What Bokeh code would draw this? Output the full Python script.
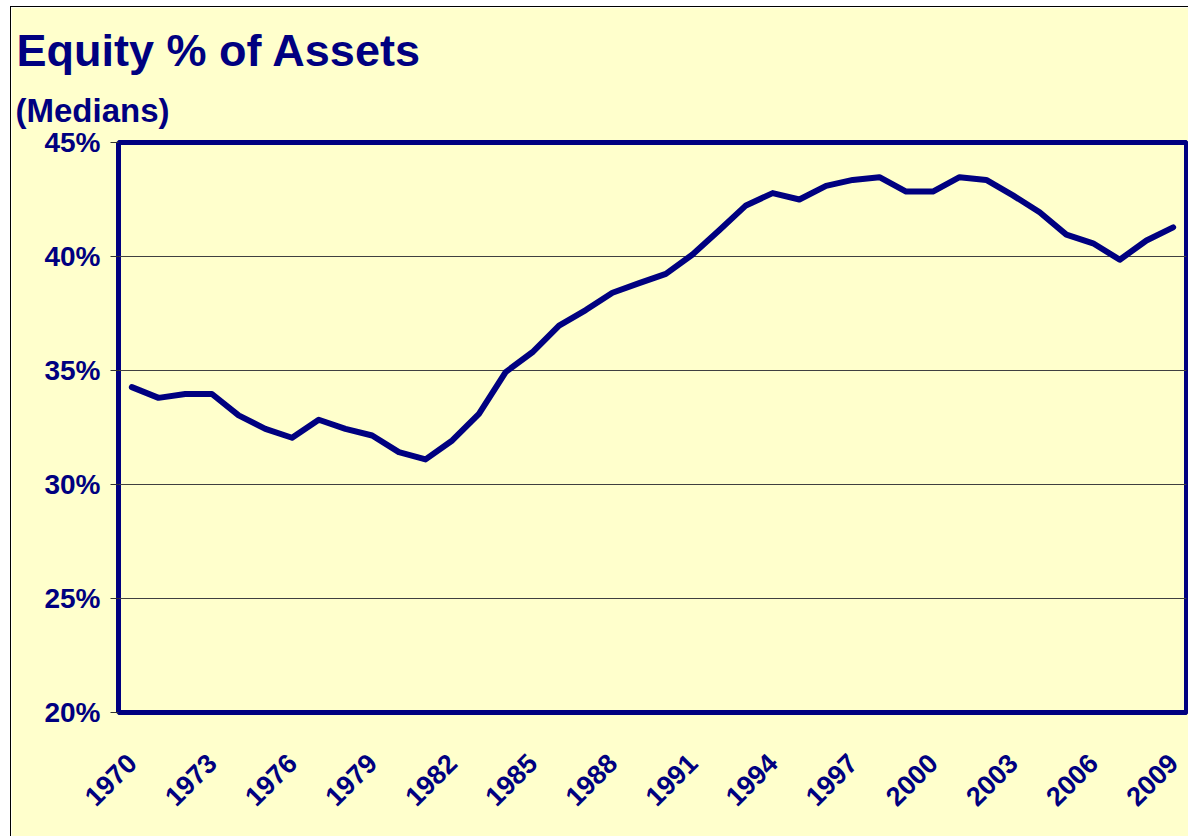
from bokeh.plotting import figure
from bokeh.models import FixedTicker, PrintfTickFormatter, Range1d, Title
from bokeh.embed import file_html
from bokeh.resources import INLINE
import math

years = list(range(1970, 2010))
equity_pct = [34.27, 33.8, 33.97, 33.97, 33.03, 32.44, 32.05, 32.84, 32.44, 32.15,
              31.42, 31.1, 31.93, 33.1, 34.93, 35.8, 36.97, 37.65, 38.41, 38.83,
              39.24, 40.09, 41.15, 42.24, 42.78, 42.5, 43.1, 43.36, 43.48, 42.85,
              42.85, 43.48, 43.36, 42.68, 41.94, 40.96, 40.58, 39.86, 40.7, 41.28]
x_tick_years = list(range(1970, 2010, 3))
y_ticks = [20, 25, 30, 35, 40, 45]
x_min, x_max = 1969.5, 2009.5
y_min, y_max = 20, 45
title_text = "Equity % of Assets"
subtitle_text = "(Medians)"

NAVY = "#000080"
BG = "#FFFFCC"
FONT = "Liberation Sans"

p = figure(width=1178, height=830, output_backend="svg", toolbar_location=None,
           x_range=Range1d(x_min, x_max), y_range=Range1d(y_min, y_max),
           min_border_left=107, min_border_top=135, min_border_right=3,
           min_border_bottom=125)
p.margin = (6, 0, 0, 10)
p.styles = {"border-left": "1px solid black", "border-top": "1px solid black"}
p.background_fill_color = BG
p.border_fill_color = BG
p.outline_line_color = NAVY
p.outline_line_width = 5

p.add_layout(Title(text=subtitle_text, align="left", offset=-103, standoff=27,
                   text_font=FONT, text_font_style="bold", text_font_size="33px",
                   text_color=NAVY), "above")
p.add_layout(Title(text=title_text, align="left", offset=-102, standoff=1,
                   text_font=FONT, text_font_style="bold", text_font_size="45px",
                   text_color=NAVY), "above")

p.line(years, equity_pct, line_color=NAVY, line_width=6,
       line_join="round", line_cap="round")

p.xaxis.ticker = FixedTicker(ticks=x_tick_years)
p.xaxis.major_label_orientation = math.pi / 4
p.xaxis.major_tick_line_color = None
p.xaxis.minor_tick_line_color = None
p.xaxis.axis_line_color = None
p.xaxis.major_label_standoff = 40
p.xaxis.major_label_text_font = FONT
p.xaxis.major_label_text_font_style = "bold"
p.xaxis.major_label_text_font_size = "27px"
p.xaxis.major_label_text_color = NAVY

p.yaxis.ticker = FixedTicker(ticks=y_ticks)
p.yaxis.formatter = PrintfTickFormatter(format="%d%%")
p.yaxis.major_tick_in = 0
p.yaxis.major_tick_out = 8
p.yaxis.major_tick_line_color = "#333333"
p.yaxis.minor_tick_line_color = None
p.yaxis.axis_line_color = None
p.yaxis.major_label_standoff = 10
p.yaxis.major_label_text_font = FONT
p.yaxis.major_label_text_font_style = "bold"
p.yaxis.major_label_text_font_size = "28px"
p.yaxis.major_label_text_color = NAVY

p.xgrid.grid_line_color = None
p.ygrid.grid_line_color = "#404040"
p.ygrid.grid_line_width = 1

open("out.html", "w").write(file_html(p, INLINE))
